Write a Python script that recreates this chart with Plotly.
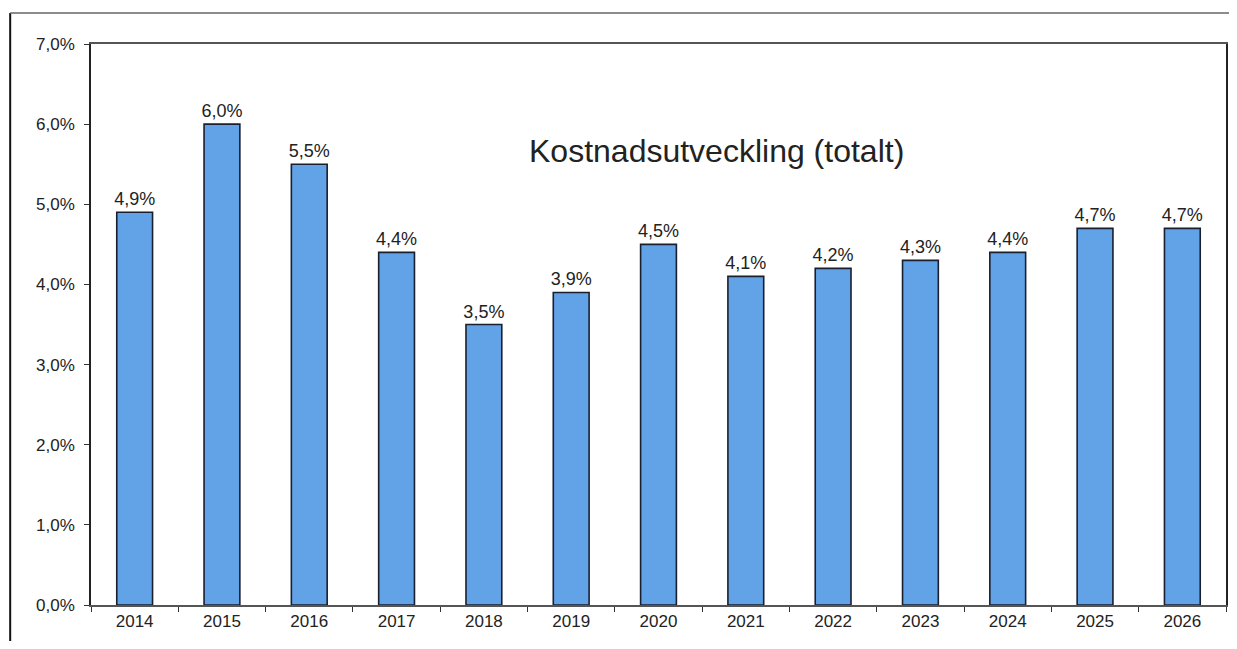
import plotly.graph_objects as go

years = ["2014", "2015", "2016", "2017", "2018", "2019", "2020",
         "2021", "2022", "2023", "2024", "2025", "2026"]
cost_growth = [4.9, 6.0, 5.5, 4.4, 3.5, 3.9, 4.5, 4.1, 4.2, 4.3, 4.4, 4.7, 4.7]
y_tickvals = [0, 1, 2, 3, 4, 5, 6, 7]
y_ticktext = ["0,0%", "1,0%", "2,0%", "3,0%", "4,0%", "5,0%", "6,0%", "7,0%"]
title_text = "Kostnadsutveckling (totalt)"

bar_labels = [f"{v:.1f}%".replace(".", ",") for v in cost_growth]

fig = go.Figure(
    go.Bar(
        x=years,
        y=cost_growth,
        text=bar_labels,
        textposition="outside",
        constraintext="none",
        cliponaxis=False,
        textfont=dict(size=18, color="#222222"),
        marker=dict(color="#62a2e6", line=dict(color="#1a1f2e", width=1.6)),
    )
)

# page has an 8px body margin, so the figure is 16px smaller than the window
fig.update_layout(
    width=1221,
    height=633,
    margin=dict(l=83, r=1, t=36, b=36),
    paper_bgcolor="white",
    plot_bgcolor="white",
    font=dict(family="Liberation Sans, Arial, sans-serif", color="#222222"),
    bargap=0.59,
    showlegend=False,
    xaxis=dict(
        showline=True,
        linecolor="#555555",
        linewidth=1.5,
        mirror=True,
        ticks="outside",
        tickson="boundaries",
        ticklen=5,
        tickcolor="#333333",
        tickfont=dict(size=17),
        showgrid=False,
    ),
    yaxis=dict(
        range=[0, 7],
        tickmode="array",
        tickvals=y_tickvals,
        ticktext=y_ticktext,
        showline=True,
        linecolor="#222222",
        linewidth=1.5,
        mirror=True,
        ticks="outside",
        ticklen=5,
        tickcolor="#333333",
        tickfont=dict(size=17),
        ticklabelstandoff=6,
        showgrid=False,
        zeroline=False,
    ),
    annotations=[
        dict(
            text=title_text,
            xref="paper", yref="paper",
            x=0.551, y=0.845,
            showarrow=False,
            font=dict(size=32, color="#222222"),
        )
    ],
    shapes=[
        # outer frame (left and top edges of the scanned page box)
        dict(type="line", xref="paper", yref="paper",
             x0=-0.0712, x1=-0.0712, y0=1.0553, y1=-0.12,
             line=dict(color="#111111", width=2)),
        dict(type="line", xref="paper", yref="paper",
             x0=-0.0712, x1=1.01, y0=1.0553, y1=1.0553,
             line=dict(color="#666666", width=1.5)),
    ],
)

fig.write_html("out.html")
